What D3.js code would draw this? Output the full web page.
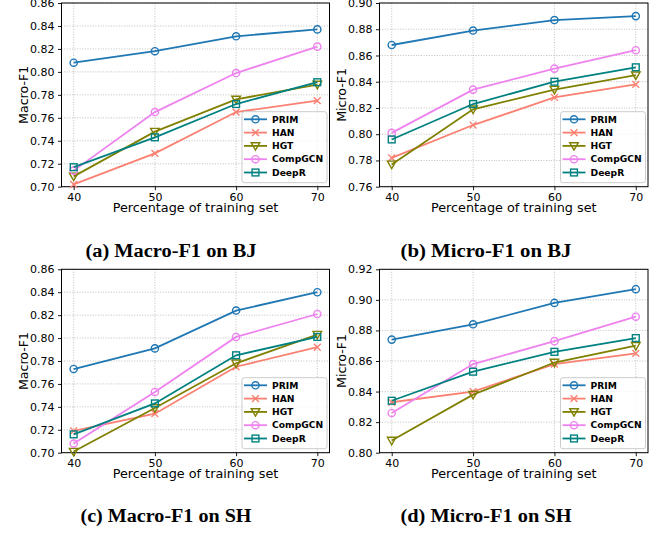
<!DOCTYPE html>
<html>
<head>
<meta charset="utf-8">
<script src="https://cdn.jsdelivr.net/npm/d3@7"></script>
<style>
  html, body { margin: 0; padding: 0; background: #fff; }
  svg { display: block; }
</style>
</head>
<body>
<svg id="chart" width="660" height="533"></svg>
<script>
// ---------------- DATA ----------------
const xValues = [40, 50, 60, 70];
const methods = ["PRIM", "HAN", "HGT", "CompGCN", "DeepR"];
const methodColors = ["#1f77b4", "#fa8072", "#808000", "#ee82ee", "#008080"];
const methodMarkers = ["circle", "x", "triangle", "circle", "square"];

// values per method (order as in `methods`)
const macroBJ = [
  [0.808, 0.818, 0.831, 0.837],
  [0.702, 0.729, 0.765, 0.775],
  [0.709, 0.748, 0.776, 0.789],
  [0.714, 0.765, 0.799, 0.822],
  [0.717, 0.743, 0.772, 0.791]
];
const microBJ = [
  [0.868, 0.879, 0.887, 0.890],
  [0.782, 0.807, 0.828, 0.838],
  [0.777, 0.819, 0.834, 0.845],
  [0.801, 0.834, 0.850, 0.864],
  [0.796, 0.823, 0.840, 0.851]
];
const macroSH = [
  [0.773, 0.791, 0.824, 0.840],
  [0.719, 0.734, 0.775, 0.792],
  [0.701, 0.739, 0.778, 0.803],
  [0.708, 0.753, 0.801, 0.821],
  [0.716, 0.743, 0.785, 0.801]
];
const microSH = [
  [0.874, 0.884, 0.898, 0.907],
  [0.833, 0.840, 0.858, 0.865],
  [0.808, 0.838, 0.859, 0.870],
  [0.826, 0.858, 0.873, 0.889],
  [0.834, 0.853, 0.866, 0.875]
];

const yTicksMacroBJ = [0.70, 0.72, 0.74, 0.76, 0.78, 0.80, 0.82, 0.84, 0.86];
const yTicksMicroBJ = [0.76, 0.78, 0.80, 0.82, 0.84, 0.86, 0.88, 0.90];
const yTicksMacroSH = [0.70, 0.72, 0.74, 0.76, 0.78, 0.80, 0.82, 0.84, 0.86];
const yTicksMicroSH = [0.80, 0.82, 0.84, 0.86, 0.88, 0.90, 0.92];

const yLabels = ["Macro-F1", "Micro-F1", "Macro-F1", "Micro-F1"];
const xLabel = "Percentage of training set";
const captions = ["(a) Macro-F1 on BJ", "(b) Micro-F1 on BJ", "(c) Macro-F1 on SH", "(d) Micro-F1 on SH"];

// ---------------- LAYOUT ----------------
const panels = [
  { data: macroBJ, ticks: yTicksMacroBJ, left: 61.5, right: 329.5, top: 3, bottom: 186.7, ylabel: yLabels[0], ylabX: 28, cap: captions[0], capX: 171, capY: 257 },
  { data: microBJ, ticks: yTicksMicroBJ, left: 379.5, right: 648, top: 3, bottom: 186.7, ylabel: yLabels[1], ylabX: 346, cap: captions[1], capX: 486, capY: 257 },
  { data: macroSH, ticks: yTicksMacroSH, left: 61.5, right: 329.5, top: 269.3, bottom: 452.7, ylabel: yLabels[2], ylabX: 28, cap: captions[2], capX: 166, capY: 521.7 },
  { data: microSH, ticks: yTicksMicroSH, left: 379.5, right: 648, top: 269.3, bottom: 452.7, ylabel: yLabels[3], ylabX: 346, cap: captions[3], capX: 486, capY: 521.7 }
];

const svg = d3.select("#chart");
const FONT = "'DejaVu Sans', sans-serif";

function drawMarker(g, type, x, y, color) {
  if (type === "circle") {
    g.append("circle").attr("cx", x).attr("cy", y).attr("r", 3.6)
      .attr("fill", "none").attr("stroke", color).attr("stroke-width", 1.4);
  } else if (type === "x") {
    const s = 3.4;
    g.append("path").attr("d", `M${x - s},${y - s}L${x + s},${y + s}M${x - s},${y + s}L${x + s},${y - s}`)
      .attr("stroke", color).attr("stroke-width", 1.4).attr("fill", "none");
  } else if (type === "triangle") {
    const s = 4.3;
    g.append("path").attr("d", `M${x - s},${y - s * 0.75}L${x + s},${y - s * 0.75}L${x},${y + s}Z`)
      .attr("stroke", color).attr("stroke-width", 1.4).attr("fill", "none");
  } else if (type === "square") {
    const s = 3.4;
    g.append("rect").attr("x", x - s).attr("y", y - s).attr("width", 2 * s).attr("height", 2 * s)
      .attr("stroke", color).attr("stroke-width", 1.4).attr("fill", "none");
  }
}

panels.forEach(p => {
  const g = svg.append("g");
  const x = d3.scaleLinear().domain([38.5, 71.5]).range([p.left, p.right]);
  const y = d3.scaleLinear().domain([p.ticks[0], p.ticks[p.ticks.length - 1]]).range([p.bottom, p.top]);

  // grid
  const grid = g.append("g");
  p.ticks.forEach(t => {
    grid.append("line").attr("x1", p.left).attr("x2", p.right).attr("y1", y(t)).attr("y2", y(t))
      .attr("stroke", "#b0b0b0").attr("stroke-width", 0.8).attr("stroke-dasharray", "1,1.6");
  });
  xValues.forEach(v => {
    grid.append("line").attr("x1", x(v)).attr("x2", x(v)).attr("y1", p.top).attr("y2", p.bottom)
      .attr("stroke", "#b0b0b0").attr("stroke-width", 0.8).attr("stroke-dasharray", "1,1.6");
  });

  // axes
  const xAxis = d3.axisBottom(x).tickValues(xValues).tickSize(3.5).tickPadding(3).tickFormat(d3.format("d"));
  const yAxis = d3.axisLeft(y).tickValues(p.ticks).tickSize(3.5).tickPadding(3.5).tickFormat(d3.format(".2f"));
  const gx = g.append("g").attr("transform", `translate(0,${p.bottom})`).call(xAxis);
  const gy = g.append("g").attr("transform", `translate(${p.left},0)`).call(yAxis);
  [gx, gy].forEach(a => {
    a.select(".domain").remove();
    a.selectAll(".tick line").attr("stroke", "#000").attr("stroke-width", 0.9);
    a.selectAll(".tick text").attr("font-family", FONT).attr("font-size", 11).attr("fill", "#000");
  });

  // frame
  g.append("rect").attr("x", p.left).attr("y", p.top).attr("width", p.right - p.left).attr("height", p.bottom - p.top)
    .attr("fill", "none").attr("stroke", "#000").attr("stroke-width", 1);

  // series
  const line = d3.line().x((d, i) => x(xValues[i])).y(d => y(d));
  p.data.forEach((vals, k) => {
    const sg = g.append("g");
    sg.append("path").attr("d", line(vals)).attr("fill", "none")
      .attr("stroke", methodColors[k]).attr("stroke-width", 1.8);
    vals.forEach((v, i) => drawMarker(sg, methodMarkers[k], x(xValues[i]), y(v), methodColors[k]));
  });

  // labels
  g.append("text").attr("x", (x(40) + x(70)) / 2).attr("y", p.bottom + 25.5).attr("text-anchor", "middle")
    .attr("font-family", FONT).attr("font-size", 12.8).attr("fill", "#000").text(xLabel);
  g.append("text").attr("transform", `translate(${p.ylabX},${(p.top + p.bottom) / 2}) rotate(-90)`)
    .attr("text-anchor", "middle").attr("font-family", FONT).attr("font-size", 12.6).attr("fill", "#000").text(p.ylabel);

  // legend
  const lw = 85, lh = 71;
  const lx = p.right - 2.5 - lw, ly = p.bottom - 4 - lh;
  const lg = g.append("g");
  lg.append("rect").attr("x", lx).attr("y", ly).attr("width", lw).attr("height", lh).attr("rx", 2.5)
    .attr("fill", "#fff").attr("fill-opacity", 0.8).attr("stroke", "#cccccc").attr("stroke-width", 1);
  methods.forEach((m, k) => {
    const cy = ly + 7.6 + k * 13.3;
    lg.append("line").attr("x1", lx + 2).attr("x2", lx + 25).attr("y1", cy).attr("y2", cy)
      .attr("stroke", methodColors[k]).attr("stroke-width", 1.8);
    drawMarker(lg, methodMarkers[k], lx + 13.5, cy, methodColors[k]);
    lg.append("text").attr("x", lx + 30).attr("y", cy).attr("dy", "0.35em")
      .attr("font-family", FONT).attr("font-weight", "bold").attr("font-size", 9.2).attr("fill", "#000").text(m);
  });

  // caption
  svg.append("text").attr("x", p.capX).attr("y", p.capY).attr("text-anchor", "middle")
    .attr("font-family", "'Liberation Serif', serif").attr("font-weight", "bold").attr("font-size", 18.5)
    .attr("textLength", 171).attr("lengthAdjust", "spacingAndGlyphs")
    .attr("fill", "#000").text(p.cap);
});
</script>
</body>
</html>
